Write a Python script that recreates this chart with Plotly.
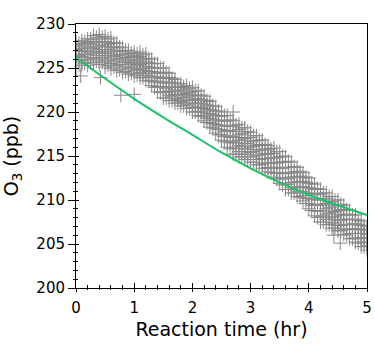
import plotly.graph_objects as go

# Measurement times (hr) and O3 readings (ppb) observed at each time
times_a = [0.0, 0.1, 0.2, 0.3, 0.4, 0.5, 0.6, 0.7, 0.8, 0.9,
           1.0, 1.1, 1.2, 1.3, 1.4, 1.5, 1.6, 1.7, 1.8, 1.9,
           2.0, 2.1, 2.2, 2.3, 2.4, 2.5, 2.6, 2.7, 2.8, 2.9,
           3.0, 3.1, 3.2, 3.3, 3.4, 3.5, 3.6, 3.7, 3.8, 3.9,
           4.0, 4.1, 4.2, 4.3, 4.4, 4.5, 4.6, 4.7, 4.8, 4.9, 5.0]

o3_rows_a = [
    [225.0, 225.7, 226.2, 226.5, 227.1, 227.6, 228.0],
    [225.3, 225.8, 226.3, 226.9, 227.2, 227.7, 228.1],
    [225.3, 225.9, 226.5, 227.0, 227.4, 227.9, 228.3],
    [225.6, 226.1, 226.6, 227.2, 227.7, 228.2, 228.7],
    [225.4, 226.0, 226.7, 227.1, 227.6, 228.3, 228.8],
    [225.1, 225.8, 226.4, 226.9, 227.5, 228.0, 228.6],
    [224.9, 225.5, 226.1, 226.7, 227.3, 227.8, 228.4],
    [224.7, 225.3, 225.9, 226.4, 226.9, 227.3, 227.8],
    [224.5, 225.0, 225.6, 226.1, 226.5, 226.9, 227.3],
    [224.3, 224.9, 225.4, 225.8, 226.2, 226.6, 227.0],
    [224.1, 224.7, 225.1, 225.6, 226.0, 226.4, 226.8],
    [223.9, 224.5, 224.9, 225.4, 225.9, 226.3, 226.8],
    [223.6, 224.2, 224.7, 225.2, 225.7, 226.1, 226.6],
    [223.0, 223.6, 224.1, 224.6, 225.0, 225.5, 226.0],
    [222.3, 222.9, 223.5, 224.0, 224.5, 225.0, 225.5],
    [221.6, 222.3, 222.9, 223.4, 223.9, 224.5, 225.0],
    [221.3, 221.9, 222.4, 222.9, 223.4, 223.9, 224.4],
    [221.0, 221.5, 222.0, 222.5, 222.9, 223.3, 223.7],
    [220.7, 221.2, 221.6, 222.0, 222.4, 222.8, 223.2],
    [220.4, 220.9, 221.3, 221.7, 222.1, 222.6, 223.0],
    [220.0, 220.5, 221.0, 221.4, 221.9, 222.3, 222.8],
    [219.6, 220.1, 220.6, 221.0, 221.5, 221.9, 222.4],
    [219.0, 219.5, 220.0, 220.4, 220.9, 221.3, 221.8],
    [218.3, 218.8, 219.3, 219.8, 220.3, 220.7, 221.2],
    [217.6, 218.1, 218.6, 219.1, 219.6, 220.1, 220.6],
    [216.8, 217.4, 218.0, 218.5, 219.0, 219.5, 220.0],
    [216.0, 216.7, 217.3, 217.9, 218.4, 219.0, 219.6],
    [215.2, 215.9, 216.6, 217.2, 217.8, 218.4, 219.0],
    [214.9, 215.5, 216.2, 216.8, 217.4, 218.0, 218.6],
    [214.6, 215.2, 215.8, 216.4, 217.0, 217.6, 218.2],
    [214.3, 214.9, 215.4, 216.0, 216.6, 217.1, 217.7],
    [214.0, 214.6, 215.1, 215.7, 216.2, 216.8, 217.3],
    [213.6, 214.1, 214.7, 215.2, 215.7, 216.3, 216.8],
    [213.2, 213.7, 214.2, 214.7, 215.2, 215.7, 216.2],
    [212.6, 213.1, 213.7, 214.2, 214.8, 215.3, 215.9],
    [211.9, 212.5, 213.1, 213.7, 214.3, 214.9, 215.5],
    [211.2, 211.8, 212.5, 213.1, 213.7, 214.3, 214.9],
    [210.8, 211.4, 212.0, 212.6, 213.1, 213.7, 214.3],
    [210.4, 211.0, 211.5, 212.1, 212.6, 213.2, 213.7],
    [209.9, 210.5, 211.0, 211.5, 212.1, 212.6, 213.1],
    [209.0, 209.6, 210.2, 210.8, 211.4, 211.9, 212.5],
    [208.2, 208.8, 209.5, 210.1, 210.7, 211.2, 211.8],
    [207.5, 208.1, 208.8, 209.4, 210.0, 210.6, 211.2],
    [207.2, 207.8, 208.4, 209.0, 209.6, 210.2, 210.8],
    [206.8, 207.4, 208.0, 208.6, 209.2, 209.8, 210.4],
    [206.5, 207.1, 207.7, 208.3, 208.8, 209.4, 210.0],
    [206.1, 206.7, 207.2, 207.8, 208.3, 208.9, 209.4],
    [205.6, 206.2, 206.7, 207.2, 207.8, 208.3, 208.8],
    [205.2, 205.7, 206.2, 206.7, 207.3, 207.8, 208.3],
    [204.7, 205.2, 205.7, 206.2, 206.6, 207.1, 207.6],
    [204.3, 204.8, 205.2, 205.7, 206.1, 206.6, 207.0],
]

times_b = [0.05, 0.15, 0.25, 0.35, 0.45, 0.55, 0.65, 0.75, 0.85, 0.95,
           1.05, 1.15, 1.25, 1.35, 1.45, 1.55, 1.65, 1.75, 1.85, 1.95,
           2.05, 2.15, 2.25, 2.35, 2.45, 2.55, 2.65, 2.75, 2.85, 2.95,
           3.05, 3.15, 3.25, 3.35, 3.45, 3.55, 3.65, 3.75, 3.85, 3.95,
           4.05, 4.15, 4.25, 4.35, 4.45, 4.55, 4.65, 4.75, 4.85, 4.95]

o3_rows_b = [
    [225.3, 225.9, 226.4, 226.9, 227.4, 227.8],
    [225.5, 226.0, 226.6, 227.0, 227.6, 228.0],
    [225.6, 226.2, 226.8, 227.3, 227.8, 228.3],
    [225.8, 226.4, 226.9, 227.4, 228.0, 228.5],
    [225.6, 226.2, 226.8, 227.4, 227.9, 228.5],
    [225.3, 225.9, 226.6, 227.1, 227.7, 228.3],
    [225.1, 225.7, 226.3, 226.9, 227.4, 227.9],
    [224.8, 225.4, 226.0, 226.5, 227.0, 227.4],
    [224.6, 225.2, 225.7, 226.2, 226.7, 227.0],
    [224.4, 225.0, 225.5, 225.9, 226.3, 226.7],
    [224.2, 224.8, 225.3, 225.7, 226.2, 226.6],
    [223.9, 224.4, 224.9, 225.5, 226.0, 226.5],
    [223.5, 224.0, 224.6, 225.1, 225.6, 226.1],
    [222.8, 223.4, 223.9, 224.4, 225.0, 225.5],
    [222.2, 222.8, 223.3, 223.8, 224.4, 225.0],
    [221.6, 222.2, 222.7, 223.3, 223.9, 224.5],
    [221.3, 221.8, 222.3, 222.8, 223.3, 223.8],
    [221.0, 221.4, 221.9, 222.3, 222.8, 223.2],
    [220.7, 221.1, 221.6, 222.0, 222.5, 222.9],
    [220.4, 220.8, 221.3, 221.8, 222.2, 222.7],
    [220.0, 220.5, 221.0, 221.5, 221.9, 222.4],
    [219.5, 220.0, 220.5, 221.0, 221.4, 221.9],
    [218.8, 219.3, 219.8, 220.3, 220.8, 221.3],
    [218.2, 218.7, 219.2, 219.7, 220.2, 220.7],
    [217.4, 218.0, 218.5, 219.0, 219.6, 220.1],
    [216.6, 217.2, 217.8, 218.4, 219.0, 219.6],
    [215.8, 216.5, 217.1, 217.8, 218.4, 219.1],
    [215.2, 215.9, 216.5, 217.1, 217.8, 218.5],
    [214.9, 215.5, 216.1, 216.8, 217.5, 218.2],
    [214.6, 215.2, 215.8, 216.4, 217.1, 217.8],
    [214.3, 214.9, 215.5, 216.1, 216.7, 217.3],
    [214.0, 214.6, 215.1, 215.7, 216.3, 216.8],
    [213.6, 214.2, 214.7, 215.3, 215.8, 216.3],
    [213.1, 213.7, 214.2, 214.8, 215.3, 215.8],
    [212.4, 213.0, 213.6, 214.2, 214.8, 215.5],
    [211.7, 212.4, 213.0, 213.6, 214.3, 215.0],
    [211.2, 211.8, 212.4, 213.0, 213.7, 214.4],
    [210.8, 211.4, 212.0, 212.6, 213.2, 213.8],
    [210.3, 210.9, 211.5, 212.1, 212.7, 213.2],
    [209.6, 210.2, 210.8, 211.4, 212.0, 212.6],
    [208.8, 209.4, 210.1, 210.7, 211.3, 211.9],
    [208.0, 208.7, 209.4, 210.0, 210.7, 211.3],
    [207.5, 208.2, 208.8, 209.5, 210.1, 210.8],
    [207.2, 207.8, 208.5, 209.1, 209.8, 210.4],
    [206.8, 207.4, 208.1, 208.7, 209.4, 210.0],
    [206.5, 207.1, 207.7, 208.3, 208.9, 209.5],
    [206.0, 206.6, 207.2, 207.8, 208.4, 208.9],
    [205.6, 206.2, 206.7, 207.3, 207.8, 208.3],
    [205.1, 205.6, 206.2, 206.7, 207.2, 207.7],
    [204.7, 205.2, 205.7, 206.2, 206.7, 207.1],
]

# Isolated readings away from the main band
outlier_t = [0.08, 0.42, 0.77, 1.0, 2.7, 4.43, 4.54]
outlier_o3 = [224.1, 223.9, 221.9, 222.0, 220.0, 206.0, 205.1]

# Model curve
fit_t = [0.0, 0.5, 1.0, 1.5, 2.0, 2.5, 3.0, 3.5, 4.0, 4.5, 5.0]
fit_o3 = [226.2, 223.8, 221.5, 219.4, 217.4, 215.4, 213.6, 212.0, 210.6, 209.4, 208.3]

meas_x = ([t for t, row in zip(times_a, o3_rows_a) for _ in row]
          + [t for t, row in zip(times_b, o3_rows_b) for _ in row] + outlier_t)
meas_y = ([v for row in o3_rows_a for v in row]
          + [v for row in o3_rows_b for v in row] + outlier_o3)

FONT = "DejaVu Sans"

fig = go.Figure()
fig.add_trace(go.Scatter(
    x=meas_x, y=meas_y, mode="markers",
    marker=dict(symbol="cross-thin", size=10, color="#888888",
                line=dict(color="#888888", width=1)),
    showlegend=False,
))
fig.add_trace(go.Scatter(
    x=fit_t, y=fit_o3, mode="lines", line=dict(color="#1cc26a", width=2, shape="spline"),
    showlegend=False,
))
# invisible trace to attach the overlay (inside-tick) axes
fig.add_trace(go.Scatter(x=[], y=[], xaxis="x2", yaxis="y2", showlegend=False, hoverinfo="skip"))

fig.update_layout(
    width=375, height=345,
    margin=dict(l=76, r=8, t=24, b=57),
    paper_bgcolor="white", plot_bgcolor="white",
    font=dict(family=FONT, color="black"),
    xaxis=dict(
        range=[0, 5], dtick=1, tick0=0, automargin=False,
        showgrid=False, zeroline=False,
        showline=True, linecolor="black", linewidth=1, mirror=True,
        ticks="outside", ticklen=3, tickcolor="black", tickwidth=1,
        ticklabelstandoff=3,
        minor=dict(dtick=0.2, ticks="outside", ticklen=1, tickcolor="black", showgrid=False),
        tickfont=dict(size=15, family=FONT),
        title=dict(text="Reaction time (hr)", font=dict(size=19, family=FONT), standoff=6),
    ),
    yaxis=dict(
        range=[200, 230], dtick=5, tick0=200, automargin=False,
        showgrid=False, zeroline=False,
        showline=True, linecolor="black", linewidth=1, mirror=True,
        ticks="outside", ticklen=7, tickcolor="black", tickwidth=1,
        minor=dict(dtick=1, ticks="outside", ticklen=2, tickcolor="black", showgrid=False),
        tickfont=dict(size=15, family=FONT),
        title=dict(text="O<sub>3</sub> (ppb)", font=dict(size=19, family=FONT), standoff=12),
    ),
    xaxis2=dict(
        range=[0, 5], dtick=1, tick0=0, overlaying="x", anchor="y", side="bottom",
        showgrid=False, zeroline=False, showline=False, showticklabels=False,
        ticks="inside", ticklen=5, tickcolor="black", tickwidth=1,
        minor=dict(dtick=0.2, ticks="inside", ticklen=3, tickcolor="black", showgrid=False),
    ),
    yaxis2=dict(
        range=[200, 230], dtick=5, tick0=200, overlaying="y", anchor="x", side="left",
        showgrid=False, zeroline=False, showline=False, showticklabels=False,
        ticks="inside", ticklen=3, tickcolor="black", tickwidth=1,
        minor=dict(dtick=1, ticks="inside", ticklen=2, tickcolor="black", showgrid=False),
    ),
)

# remove the page's default body margin so the 375x345 figure fills the window exactly
fig.write_html(
    "out.html",
    config={"displayModeBar": False},
    post_script="document.body.style.margin='0';document.body.style.overflow='hidden';",
)
